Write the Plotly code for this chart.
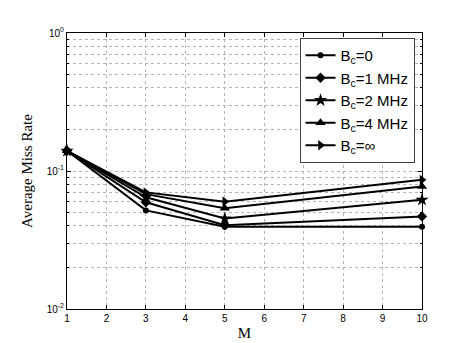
import plotly.graph_objects as go

# M values and average miss rate per bandwidth setting
m_vals = [1, 3, 5, 10]
miss_b0 = [0.140, 0.0518, 0.0394, 0.0394]
miss_b1 = [0.140, 0.0594, 0.0405, 0.0469]
miss_b2 = [0.140, 0.0645, 0.0452, 0.0618]
miss_b4 = [0.140, 0.0680, 0.0538, 0.0773]
miss_inf = [0.140, 0.0700, 0.0600, 0.0863]

names = ["B<sub>c</sub>=0", "B<sub>c</sub>=1 MHz", "B<sub>c</sub>=2 MHz",
         "B<sub>c</sub>=4 MHz", "B<sub>c</sub>=\u221e"]
series = [miss_b0, miss_b1, miss_b2, miss_b4, miss_inf]
symbols = ["circle", "diamond", "star", "triangle-up", "triangle-right"]
sizes = [6, 8, 10, 9, 9]

y_ticks = [0.01, 0.1, 1]
y_ticktext = ["10<sup>-2</sup>", "10<sup>-1</sup>", "10<sup>0</sup>"]
# minor log ticks 2..9 in each decade
y_minor = [k * 0.01 for k in range(2, 10)] + [k * 0.1 for k in range(2, 10)]

fig = go.Figure()
for name, vals, sym, sz in zip(names, series, symbols, sizes):
    fig.add_trace(go.Scatter(
        x=m_vals, y=vals, name=name, mode="lines+markers",
        line=dict(color="black", width=2),
        marker=dict(symbol=sym, size=sz, color="black"),
        cliponaxis=False,
    ))

axis_common = dict(
    showline=True, linecolor="black", linewidth=1, mirror="ticks",
    ticks="inside", ticklen=4, tickcolor="black",
    showgrid=True, gridcolor="#b4b4b4", griddash="dot", gridwidth=1,
    zeroline=False,
    tickfont=dict(family="Liberation Sans, Arial", size=10, color="black"),
)

fig.update_layout(
    width=457, height=343,
    margin=dict(l=59, r=43, t=25, b=38),
    paper_bgcolor="white", plot_bgcolor="white",
    showlegend=True,
    legend=dict(
        x=0.655, y=0.982, xanchor="left", yanchor="top",
        bgcolor="white", bordercolor="#404040", borderwidth=1,
        font=dict(family="Liberation Sans, Arial", size=15, color="black"),
        tracegroupgap=0, itemsizing="trace",
    ),
    xaxis=dict(
        range=[1, 10], tickvals=list(range(1, 11)),
        title=dict(text="M", standoff=4,
                   font=dict(family="Liberation Serif, Times New Roman", size=15, color="black")),
        **axis_common,
    ),
    yaxis=dict(
        type="log", range=[-2, 0], tickvals=y_ticks, ticktext=y_ticktext,
        title=dict(text="Average Miss Rate", standoff=10,
                   font=dict(family="Liberation Serif, Times New Roman", size=15, color="black")),
        minor=dict(tickmode="array", tickvals=y_minor, ticks="inside", ticklen=2,
                   tickcolor="black", showgrid=True, gridcolor="#b4b4b4", griddash="dot"),
        **axis_common,
    ),
)

fig.write_html("out.html")
